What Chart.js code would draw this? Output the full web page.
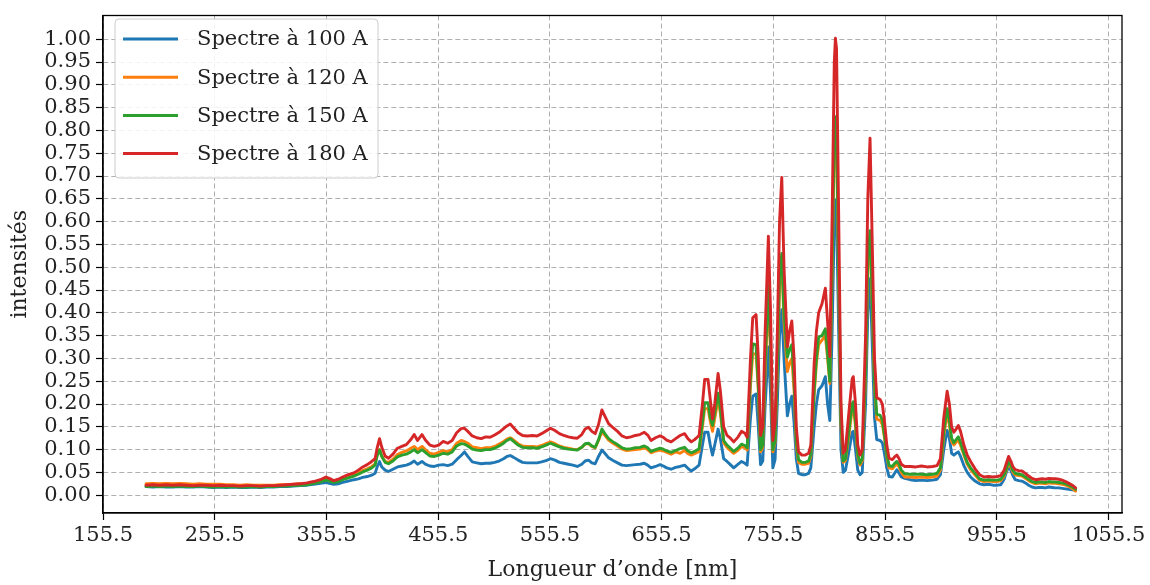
<!DOCTYPE html>
<html>
<head>
<meta charset="utf-8">
<script src="https://cdn.jsdelivr.net/npm/chart.js@4.4.1/dist/chart.umd.min.js"></script>
<style>
  html, body { margin: 0; padding: 0; background: #fff; }
  #wrap { width: 1150px; height: 585px; }
</style>
</head>
<body>
<div id="wrap"><canvas id="grafico" width="1150" height="585"></canvas></div>
<script>
// longueurs d'onde (nm)
const wavelengths = [
  194,200,206,212,218,224,230,236,242,248,
  254,260,266,272,278,284,290,296,302,308,
  314,320,326,332,338,344,350,355,358,362,
  366,370,375,380,384,388,392,396,399,401,
  403,405,408,411,415,419,423,427,431,434,
  437,441,444,448,452,456,460,464,468,472,
  476,479,482,486,490,494,498,502,506,510,
  514,517,520,523,527,531,535,540,544,548,
  552,556,560,564,568,572,576,580,584,587,
  590,593,596,599,602,605,608,612,616,620,
  624,628,632,636,640,643,646,650,654,657,
  660,664,668,672,676,679,682,685,689,692,
  694,697,699,701,703,706,708,711,714,717,
  720,724,727,730,732,735,737,740,742,744,
  746,748,751,753,755,757,759,761,763,765,
  768,770,772,774,776,778,781,784,787,789,
  792,794,796,799,802,804,806,808,810,811,
  812,814,816,818,820,823,826,827,829,831,
  833,835,838,840,842,844,846,848,851,853,
  855,857,859,862,864,866,868,870,873,878,
  883,888,893,898,902,905,908,911,913,915,
  917,919,921,923,926,929,932,936,940,944,
  948,952,956,959,962,964,966,968,970,972,
  975,978,981,984,987,990,993,996,999,1002,
  1005,1008,1011,1014,1017,1020,1023,1026
];

const spectre100 = [
  .019,.018,.019,.018,.018,.019,.018,.018,.019,.018,
  .017,.018,.017,.018,.017,.017,.018,.017,.018,.018,
  .019,.019,.020,.021,.022,.024,.026,.028,.026,.024,
  .025,.028,.031,.034,.036,.039,.041,.044,.048,.063,
  .074,.062,.055,.052,.057,.062,.064,.066,.070,.075,
  .068,.074,.068,.064,.063,.066,.067,.065,.068,.078,
  .087,.095,.085,.073,.071,.069,.070,.070,.072,.075,
  .080,.085,.087,.083,.077,.072,.071,.071,.071,.073,
  .076,.080,.077,.072,.070,.068,.066,.063,.068,.075,
  .077,.071,.069,.085,.099,.091,.082,.076,.071,.066,
  .065,.066,.067,.068,.070,.066,.060,.063,.067,.064,
  .060,.057,.061,.063,.066,.059,.053,.058,.066,.110,
  .138,.138,.110,.088,.110,.145,.125,.080,.074,.067,
  .060,.068,.074,.070,.066,.170,.217,.222,.150,.067,
  .075,.190,.325,.220,.060,.078,.200,.350,.407,.300,
  .174,.200,.217,.160,.080,.048,.045,.045,.048,.060,
  .150,.200,.231,.240,.260,.200,.164,.350,.600,.647,
  .620,.350,.100,.050,.055,.095,.138,.140,.100,.055,
  .045,.050,.200,.400,.475,.330,.170,.122,.120,.115,
  .090,.060,.041,.040,.048,.056,.048,.040,.037,.034,
  .032,.033,.032,.033,.035,.045,.100,.142,.125,.092,
  .088,.092,.095,.085,.065,.050,.040,.031,.025,.023,
  .024,.022,.022,.023,.035,.050,.063,.055,.042,.034,
  .032,.031,.027,.022,.018,.016,.017,.017,.016,.018,
  .017,.016,.016,.015,.014,.013,.012,.011
];

const spectre120 = [
  .025,.026,.025,.026,.025,.026,.025,.024,.025,.024,
  .024,.024,.023,.023,.022,.023,.022,.022,.022,.022,
  .023,.023,.024,.025,.026,.028,.031,.035,.034,.031,
  .032,.036,.040,.044,.049,.054,.058,.063,.069,.090,
  .100,.086,.074,.072,.079,.089,.094,.097,.103,.107,
  .100,.107,.100,.092,.090,.094,.098,.095,.100,.114,
  .120,.118,.114,.106,.104,.102,.104,.104,.107,.112,
  .118,.123,.126,.121,.113,.108,.107,.107,.106,.109,
  .113,.117,.113,.108,.105,.103,.101,.100,.105,.112,
  .113,.107,.104,.120,.140,.130,.121,.114,.108,.101,
  .098,.099,.100,.101,.104,.100,.093,.097,.099,.097,
  .094,.090,.095,.092,.098,.091,.088,.091,.096,.150,
  .190,.190,.162,.140,.168,.210,.180,.115,.105,.098,
  .092,.099,.107,.104,.099,.240,.310,.310,.230,.095,
  .105,.260,.440,.310,.095,.115,.270,.460,.510,.380,
  .271,.290,.300,.230,.110,.072,.068,.068,.070,.085,
  .220,.290,.330,.340,.350,.300,.245,.480,.770,.800,
  .770,.460,.150,.072,.076,.130,.190,.195,.150,.085,
  .066,.075,.260,.500,.560,.410,.240,.167,.164,.155,
  .125,.085,.060,.058,.064,.068,.062,.050,.040,.040,
  .039,.040,.039,.040,.042,.055,.130,.180,.155,.118,
  .110,.116,.121,.110,.088,.068,.056,.044,.033,.030,
  .031,.030,.030,.032,.042,.055,.070,.062,.050,.044,
  .043,.042,.037,.032,.028,.025,.026,.026,.025,.027,
  .026,.026,.025,.024,.022,.019,.015,.009
];

const spectre150 = [
  .019,.020,.019,.020,.019,.020,.019,.019,.020,.019,
  .018,.019,.018,.019,.018,.018,.019,.018,.019,.019,
  .020,.020,.021,.022,.023,.026,.029,.033,.031,.028,
  .030,.034,.038,.042,.046,.051,.055,.060,.066,.088,
  .099,.085,.072,.069,.075,.084,.088,.090,.095,.100,
  .093,.100,.094,.086,.085,.088,.092,.090,.095,.108,
  .113,.112,.108,.101,.099,.098,.100,.100,.103,.108,
  .114,.120,.124,.118,.110,.105,.104,.104,.103,.106,
  .110,.114,.110,.106,.103,.101,.100,.099,.105,.113,
  .114,.108,.105,.122,.145,.134,.124,.117,.111,.104,
  .101,.102,.104,.105,.108,.104,.096,.100,.103,.101,
  .097,.094,.098,.102,.105,.097,.093,.096,.102,.160,
  .203,.203,.170,.153,.180,.224,.190,.120,.110,.103,
  .096,.104,.112,.109,.104,.260,.332,.330,.240,.100,
  .110,.280,.460,.330,.100,.120,.280,.480,.530,.400,
  .303,.320,.330,.250,.120,.078,.072,.072,.075,.090,
  .230,.300,.347,.350,.365,.310,.250,.500,.800,.830,
  .800,.480,.160,.075,.080,.140,.200,.205,.160,.090,
  .070,.080,.270,.520,.580,.430,.250,.178,.175,.165,
  .130,.090,.065,.063,.070,.074,.068,.055,.047,.046,
  .046,.046,.045,.046,.048,.060,.140,.190,.165,.125,
  .115,.122,.128,.116,.092,.072,.060,.048,.036,.033,
  .034,.033,.033,.035,.045,.058,.075,.066,.054,.048,
  .046,.045,.040,.035,.030,.028,.029,.029,.028,.030,
  .029,.029,.028,.027,.025,.022,.018,.013
];

const spectre180 = [
  .022,.023,.022,.023,.022,.023,.022,.021,.022,.022,
  .021,.022,.021,.021,.020,.021,.021,.020,.021,.021,
  .022,.023,.024,.025,.027,.030,.034,.040,.037,.032,
  .035,.040,.045,.049,.055,.062,.067,.074,.080,.105,
  .124,.105,.086,.081,.090,.103,.107,.111,.122,.133,
  .120,.133,.121,.110,.107,.110,.118,.114,.120,.137,
  .146,.147,.140,.130,.126,.124,.128,.127,.132,.138,
  .146,.152,.156,.148,.137,.131,.130,.131,.130,.135,
  .141,.147,.142,.135,.131,.128,.126,.125,.133,.145,
  .149,.140,.135,.155,.187,.172,.157,.148,.140,.130,
  .126,.128,.131,.133,.138,.132,.120,.126,.130,.127,
  .121,.117,.124,.131,.135,.124,.117,.122,.131,.200,
  .254,.254,.210,.167,.200,.267,.230,.150,.131,.125,
  .117,.128,.140,.136,.127,.300,.389,.396,.300,.131,
  .150,.350,.568,.400,.120,.160,.350,.600,.697,.500,
  .325,.360,.382,.300,.150,.095,.088,.088,.092,.110,
  .290,.360,.400,.420,.454,.380,.304,.600,.950,1.002,
  .980,.600,.200,.092,.100,.180,.255,.260,.200,.110,
  .088,.100,.350,.650,.783,.550,.300,.214,.210,.200,
  .160,.110,.081,.078,.084,.088,.080,.068,.063,.063,
  .062,.064,.062,.063,.065,.080,.170,.228,.200,.150,
  .138,.145,.153,.140,.110,.088,.074,.058,.045,.040,
  .041,.040,.041,.043,.055,.070,.085,.075,.062,.056,
  .054,.053,.048,.042,.037,.034,.035,.036,.035,.037,
  .036,.036,.035,.033,.030,.026,.022,.016
];

const labels = ["Spectre à 100 A", "Spectre à 120 A", "Spectre à 150 A", "Spectre à 180 A"];
const colori = ["#1f77b4", "#ff7f0e", "#2ca02c", "#d62728"];
const xTicks = [155.5, 255.5, 355.5, 455.5, 555.5, 655.5, 755.5, 855.5, 955.5, 1055.5];
const yTicks = [0, .05, .10, .15, .20, .25, .30, .35, .40, .45, .50, .55, .60, .65, .70, .75, .80, .85, .90, .95, 1.00];

const FONT = "'DejaVu Serif', 'Liberation Serif', serif";

function punti(serie) {
    return wavelengths.map((w, i) => ({ x: w, y: serie[i] }));
}

// cornice + legenda disegnate sopra il grafico
const cornice = {
    id: 'cornice',
    afterDraw(chart) {
        const ctx = chart.ctx;
        const a = chart.chartArea;
        ctx.save();
        ctx.strokeStyle = '#000';
        ctx.lineWidth = 1.3;
        ctx.strokeRect(a.left, a.top, a.right - a.left, a.bottom - a.top);

        // legenda
        const bx = 115, by = 19, bw = 263, bh = 159, r = 4;
        ctx.beginPath();
        ctx.moveTo(bx + r, by);
        ctx.arcTo(bx + bw, by, bx + bw, by + bh, r);
        ctx.arcTo(bx + bw, by + bh, bx, by + bh, r);
        ctx.arcTo(bx, by + bh, bx, by, r);
        ctx.arcTo(bx, by, bx + bw, by, r);
        ctx.closePath();
        ctx.fillStyle = 'rgba(255,255,255,0.85)';
        ctx.fill();
        ctx.strokeStyle = '#cccccc';
        ctx.lineWidth = 1;
        ctx.stroke();

        ctx.font = "21px " + FONT;
        ctx.textBaseline = 'middle';
        ctx.textAlign = 'left';
        chart.data.datasets.forEach((ds, i) => {
            const y = 39 + i * 38.2;
            ctx.strokeStyle = ds.borderColor;
            ctx.lineWidth = 3;
            ctx.beginPath();
            ctx.moveTo(123, y);
            ctx.lineTo(178, y);
            ctx.stroke();
            ctx.fillStyle = '#222';
            ctx.fillText(ds.label, 197, y + 1);
        });
        ctx.restore();
    }
};

const ctx = document.getElementById("grafico").getContext("2d");
const serie = [spectre100, spectre120, spectre150, spectre180];

new Chart(ctx, {
    type: 'line',
    data: {
        datasets: serie.map((s, i) => ({
            label: labels[i],
            data: punti(s),
            borderColor: colori[i],
            backgroundColor: colori[i],
            borderWidth: 2.9,
            borderJoinStyle: 'round',
            borderCapStyle: 'round',
            pointRadius: 0,
            tension: 0,
            order: 4 - i
        }))
    },
    options: {
        responsive: false,
        animation: false,
        events: [],
        layout: { padding: { top: 5, right: 28, left: 0, bottom: 0 } },
        plugins: { legend: { display: false }, tooltip: { enabled: false } },
        scales: {
            x: {
                type: 'linear',
                min: 155.5,
                max: 1067.5,
                afterBuildTicks: (s) => { s.ticks = xTicks.map(v => ({ value: v })); },
                afterFit: (s) => { s.height = 72; },
                ticks: {
                    autoSkip: false,
                    maxRotation: 0,
                    padding: 3,
                    color: '#222',
                    font: { family: FONT, size: 21 },
                    callback: (v) => Number(v).toFixed(1)
                },
                grid: {
                    color: '#b0b0b0',
                    lineWidth: 1,
                    tickColor: '#000',
                    tickLength: 7,
                    tickWidth: 1.2,
                    tickBorderDash: []
                },
                border: { display: true, color: '#000', width: 1.3, dash: [5, 3] },
                title: {
                    display: true,
                    text: "Longueur d’onde [nm]",
                    color: '#222',
                    font: { family: FONT, size: 22 },
                    padding: { top: 0, bottom: 2 }
                }
            },
            y: {
                type: 'linear',
                min: -0.039,
                max: 1.052,
                afterBuildTicks: (s) => { s.ticks = yTicks.map(v => ({ value: v })); },
                afterFit: (s) => { s.width = 103; },
                ticks: {
                    autoSkip: false,
                    padding: 5,
                    color: '#222',
                    font: { family: FONT, size: 21, lineHeight: 1 },
                    callback: (v) => Number(v).toFixed(2)
                },
                grid: {
                    color: '#b0b0b0',
                    lineWidth: 1,
                    tickColor: '#000',
                    tickLength: 7,
                    tickWidth: 1.2,
                    tickBorderDash: []
                },
                border: { display: true, color: '#000', width: 1.3, dash: [5, 3] },
                title: {
                    display: true,
                    text: "intensités",
                    color: '#222',
                    font: { family: FONT, size: 22 },
                    padding: { top: 7, bottom: 0 }
                }
            }
        }
    },
    plugins: [cornice]
});
</script>
</body>
</html>
